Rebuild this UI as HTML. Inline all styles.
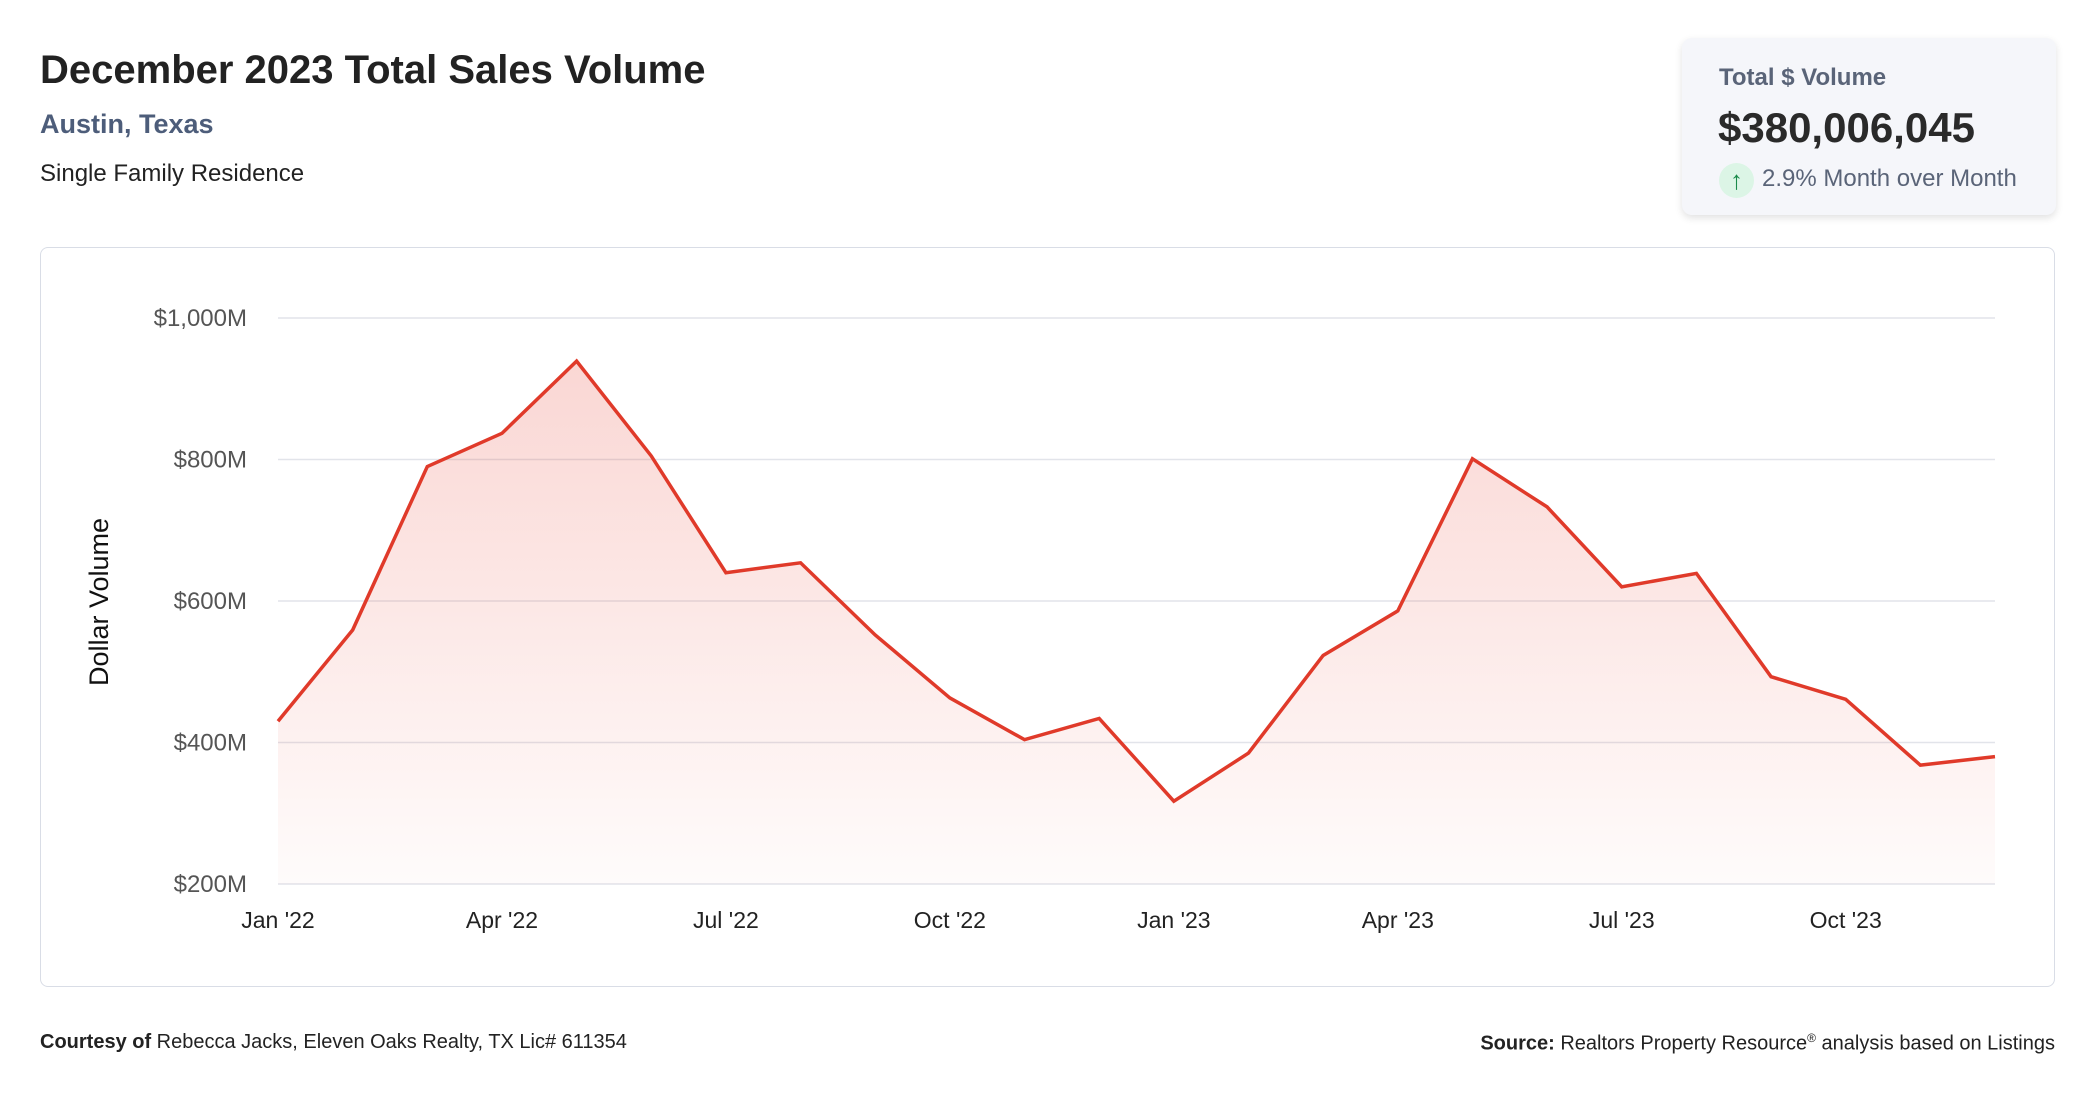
<!DOCTYPE html>
<html><head><meta charset="utf-8"><style>
body{margin:0;width:2096px;height:1100px;background:#fff;font-family:"Liberation Sans",sans-serif;position:relative;overflow:hidden}
.abs{position:absolute}
</style></head><body>
<div class="abs" style="left:40px;top:48px;font-size:40px;font-weight:bold;color:#222">December 2023 Total Sales Volume</div>
<div class="abs" style="left:40px;top:109px;font-size:27px;font-weight:bold;color:#4d5d7a">Austin, Texas</div>
<div class="abs" style="left:40px;top:160px;font-size:24px;color:#222">Single Family Residence</div>
<div class="abs" style="left:1682px;top:38px;width:374px;height:177px;background:#f5f6fa;border-radius:10px;box-shadow:0 3px 8px rgba(0,0,0,0.12)">
 <div class="abs" style="left:37px;top:26px;font-size:24px;font-weight:bold;color:#5a6478">Total $ Volume</div>
 <div class="abs" style="left:36px;top:66px;font-size:42px;font-weight:bold;color:#2a2a2a">$380,006,045</div>
 <div class="abs" style="left:37px;top:125px;width:35px;height:35px;border-radius:50%;background:#dcf5e6;color:#1a8a4a;font-size:26px;text-align:center;line-height:35px">↑</div>
 <div class="abs" style="left:80px;top:127px;font-size:24px;color:#5a6478">2.9% Month over Month</div>
</div>
<div class="abs" style="left:40px;top:247px;width:2013px;height:738px;border:1.5px solid #d9dde6;border-radius:8px"></div>
<svg class="abs" style="left:0;top:0" width="2096" height="1100">
 <defs><linearGradient id="g" x1="0" y1="0" x2="0" y2="1"><stop offset="0" stop-color="#e8483a" stop-opacity="0.22"/><stop offset="1" stop-color="#e8483a" stop-opacity="0.02"/></linearGradient></defs>
 <g id="grid"></g><g id="plot"></g><g id="axes"></g>
 <text transform="translate(108,602) rotate(-90)" text-anchor="middle" font-size="27" fill="#111" font-family="Liberation Sans,sans-serif">Dollar Volume</text>
</svg>
<div class="abs" style="left:40px;top:1031px;font-size:20px;color:#222"><b>Courtesy of</b> Rebecca Jacks, Eleven Oaks Realty, TX Lic# 611354</div>
<div class="abs" style="right:41px;top:1031px;font-size:20px;color:#222"><b>Source:</b> Realtors Property Resource<sup style="font-size:12px">®</sup> analysis based on Listings</div>
<script>
const months=["Jan '22","Feb '22","Mar '22","Apr '22","May '22","Jun '22","Jul '22","Aug '22","Sep '22","Oct '22","Nov '22","Dec '22","Jan '23","Feb '23","Mar '23","Apr '23","May '23","Jun '23","Jul '23","Aug '23","Sep '23","Oct '23","Nov '23","Dec '23"];
const volumes=[430,559,790,837,939,805,640,654,552,463,404,434,317,385,523,586,801,733,620,639,493,461,368,380];
const yTicks=[200,400,600,800,1000];
const yTickLabels=["$200M","$400M","$600M","$800M","$1,000M"];
const xTickIdx=[0,3,6,9,12,15,18,21];
const NS="http://www.w3.org/2000/svg";
const X0=278,X1=1995,Y0=884,Y1=318,VMIN=200,VMAX=1000;
function x(i){return X0+(X1-X0)*i/(months.length-1);}
function y(v){return Y0-(v-VMIN)/(VMAX-VMIN)*(Y0-Y1);}
function mk(t,a,p){const e=document.createElementNS(NS,t);for(const k in a)e.setAttribute(k,a[k]);p.appendChild(e);return e;}
const grid=document.getElementById('grid'),plot=document.getElementById('plot'),axes=document.getElementById('axes');
yTicks.forEach((v,i)=>{
 const l=mk('line',{x1:X0,x2:X1,y1:y(v),y2:y(v),stroke:'#e2e4ea','stroke-width':1.5},grid);
 
 
 const t=mk('text',{x:247,y:y(v)+8,'text-anchor':'end','font-size':24,fill:'#555','font-family':'Liberation Sans,sans-serif'},axes);
 t.textContent=yTickLabels[i];
 
 
});
xTickIdx.forEach(i=>{
 const t=mk('text',{x:x(i),y:928,'text-anchor':'middle','font-size':23,fill:'#222','font-family':'Liberation Sans,sans-serif'},axes);
 t.textContent=months[i];
 
 
});
let d=volumes.map((v,i)=>(i?'L':'M')+x(i)+','+y(v)).join(' ');
const area=mk('path',{d:d+` L${x(volumes.length-1)},${Y0} L${x(0)},${Y0} Z`,fill:'url(#g)'},plot);


const line=mk('path',{d:d,fill:'none',stroke:'#e03a2a','stroke-width':3.5,'stroke-linejoin':'miter'},plot);


</script>
</body></html>
